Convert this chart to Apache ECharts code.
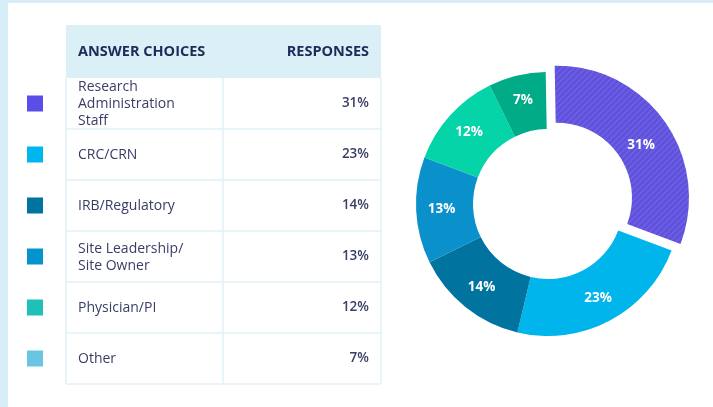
<!DOCTYPE html>
<html>
<head>
<meta charset="utf-8">
<script src="https://cdn.jsdelivr.net/npm/echarts@6/dist/echarts.min.js"></script>
<style>
  html, body { margin: 0; padding: 0; }
  #chart { width: 713px; height: 407px; }
</style>
</head>
<body>
<div id="chart"></div>
<script>
const categories = ['Research\nAdministration\nStaff', 'CRC/CRN', 'IRB/Regulatory', 'Site Leadership/\nSite Owner', 'Physician/PI', 'Other']
const values = [31, 23, 14, 13, 12, 7]
const sliceColors = ['#6b5ee4', '#00b4ec', '#00739f', '#0a90cb', '#05d3a8', '#00ab88']
const legendColors = ['#5b4de8', '#00b6ef', '#00739f', '#0493cc', '#1fc1b6', '#68c6e4']
const headers = ['ANSWER CHOICES', 'RESPONSES']

const font = '"Open Sans", Lato, sans-serif'
const tableLeft = 66, tableRight = 381, colSplit = 223
const headTop = 25, headBottom = 78, rowH = 51
const lineColor = '#e2f1f7'
const textColor = '#393d66'

// striped fill for the highlighted slice
function stripes(base, stripe) {
    const c = document.createElement('canvas')
    c.width = 6; c.height = 6
    const ctx = c.getContext('2d')
    ctx.fillStyle = base
    ctx.fillRect(0, 0, 6, 6)
    ctx.strokeStyle = stripe
    ctx.lineWidth = 1.6
    ctx.beginPath()
    ctx.moveTo(-1, 7); ctx.lineTo(7, -1)
    ctx.moveTo(-1, 1); ctx.lineTo(1, -1)
    ctx.moveTo(5, 7); ctx.lineTo(7, 5)
    ctx.stroke()
    return c
}

const graphics = [
    // white page over the light blue frame
    { type: 'rect', shape: { x: 8, y: 3, width: 705, height: 404 }, style: { fill: '#fff' }, z: 0 },
    // header band
    { type: 'rect', shape: { x: tableLeft, y: headTop, width: tableRight - tableLeft, height: headBottom - headTop }, style: { fill: '#dbeff7' }, z: 1 },
    { type: 'text', x: 78, y: (headTop + headBottom) / 2, style: { text: headers[0], fill: '#1d2a5a', font: 'bold 14.5px ' + font, textVerticalAlign: 'middle' }, z: 2 },
    { type: 'text', x: 369, y: (headTop + headBottom) / 2, style: { text: headers[1], fill: '#1d2a5a', font: 'bold 14.5px ' + font, textAlign: 'right', textVerticalAlign: 'middle' }, z: 2 }
]

const tableBottom = headBottom + rowH * categories.length
categories.forEach((name, i) => {
    const top = headBottom + rowH * i
    const mid = top + rowH / 2
    graphics.push(
        { type: 'rect', shape: { x: 27, y: mid - 8, width: 16, height: 16 }, style: { fill: legendColors[i] }, z: 2 },
        { type: 'text', x: 78, y: mid + 1, style: { text: name, fill: textColor, font: '14px ' + font, lineHeight: 17, textVerticalAlign: 'middle' }, z: 2 },
        { type: 'text', x: 369, y: mid, style: { text: values[i] + '%', fill: textColor, font: '600 13.5px ' + font, textAlign: 'right', textVerticalAlign: 'middle' }, z: 2 },
        { type: 'line', shape: { x1: tableLeft, y1: top + rowH, x2: tableRight, y2: top + rowH }, style: { stroke: lineColor, lineWidth: 1.5 }, z: 2 }
    )
})
graphics.push(
    { type: 'line', shape: { x1: tableLeft, y1: headBottom, x2: tableLeft, y2: tableBottom }, style: { stroke: lineColor, lineWidth: 1.5 }, z: 2 },
    { type: 'line', shape: { x1: tableRight, y1: headBottom, x2: tableRight, y2: tableBottom }, style: { stroke: lineColor, lineWidth: 1.5 }, z: 2 },
    { type: 'line', shape: { x1: colSplit, y1: headBottom, x2: colSplit, y2: tableBottom }, style: { stroke: lineColor, lineWidth: 1.5 }, z: 2 }
)

const option = {
    backgroundColor: '#d6ecf6',
    animation: false,
    graphic: graphics,
    series: [{
        type: 'pie',
        center: [548, 204],
        radius: [75, 132],
        startAngle: 91,
        selectedMode: 'single',
        selectedOffset: 11,
        label: {
            position: 'inside',
            formatter: '{c}%',
            color: '#fff',
            fontFamily: font,
            fontWeight: 'bold',
            fontSize: 13.5
        },
        labelLayout: function (params) {
            // the 31% label sits a little lower in the original
            return params.dataIndex === 0 ? { dx: -3, dy: 9 } : {}
        },
        labelLine: { show: false },
        emphasis: { disabled: true },
        data: values.map((v, i) => ({
            name: categories[i],
            value: v,
            selected: i === 0,
            itemStyle: {
                color: i === 0
                    ? { image: stripes(sliceColors[0], '#5c4ed8'), repeat: 'repeat' }
                    : sliceColors[i]
            }
        }))
    }]
}

const chart = echarts.init(document.getElementById('chart'))
chart.setOption(option)
</script>
</body>
</html>
